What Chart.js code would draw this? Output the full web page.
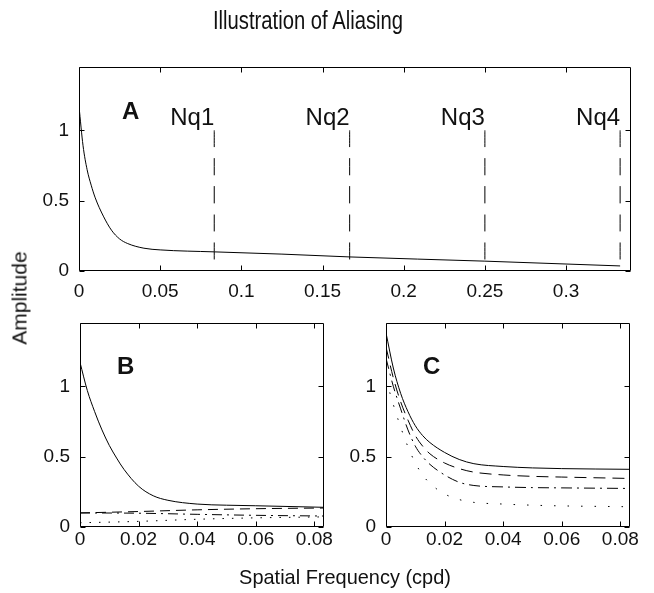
<!DOCTYPE html>
<html lang="en">
<head>
    <meta charset="UTF-8">
    <title>Illustration of Aliasing</title>
    <script src="https://cdn.jsdelivr.net/npm/chart.js"></script>
    <style>
        body { margin: 0; background: #fff; }
        #wrap { position: relative; width: 654px; height: 593px; overflow: hidden; }
        #wrap canvas { position: absolute; left: 0; top: 0; }
        .lbl {
            position: absolute;
            font-family: 'Liberation Sans', Arial, sans-serif;
            color: #111;
            white-space: nowrap;
        }
        /* the original uses a condensed helvetica for title and labels */
        #title { left: 0; width: 616px; top: 8px; text-align: center; font-size: 25px; line-height: 25px; transform: scaleX(0.81); }
        #xlabel { left: 145px; width: 400px; top: 566px; text-align: center; font-size: 21px; line-height: 21px; transform: scaleX(0.95); }
        #ylabel { left: 19px; top: 298px; font-size: 21px; line-height: 21px; transform: translate(-50%, -50%) rotate(-90deg); }
    </style>
</head>
<body>
<div id="wrap">
    <canvas id="chartA" width="654" height="593"></canvas>
    <canvas id="chartB" width="654" height="593"></canvas>
    <canvas id="chartC" width="654" height="593"></canvas>
    <div class="lbl" id="title">Illustration of Aliasing</div>
    <div class="lbl" id="xlabel">Spatial Frequency (cpd)</div>
    <div class="lbl" id="ylabel">Amplitude</div>
</div>

<script>
    // Panel A : spectrum over the whole range, with the Nyquist limits
    const freqA = [0, 0.0025, 0.005, 0.0075, 0.01, 0.015, 0.02, 0.025, 0.03, 0.04, 0.05, 0.0833, 0.125, 0.1667, 0.25, 0.3333];
    const ampA  = [1.17, 0.89, 0.72, 0.61, 0.52, 0.39, 0.29, 0.228, 0.195, 0.162, 0.15, 0.136, 0.12, 0.10, 0.07, 0.036];
    const nyquist = [0.0833, 0.1667, 0.25, 0.3333];
    const nyquistLabels = ['Nq1', 'Nq2', 'Nq3', 'Nq4'];

    // Panel B : first band, original spectrum + aliased copies
    const freqB      = [0, 0.0025, 0.005, 0.0075, 0.01, 0.0125, 0.015, 0.02, 0.025, 0.03, 0.04, 0.05, 0.06, 0.0833];
    const ampBsolid  = [1.17, 0.97, 0.82, 0.69, 0.58, 0.49, 0.41, 0.29, 0.222, 0.19, 0.163, 0.155, 0.151, 0.14];
    const freqBlow   = [0, 0.02, 0.04, 0.06, 0.0833];
    const ampBdash   = [0.10, 0.11, 0.122, 0.13, 0.135];
    const ampBdashdot = [0.10, 0.098, 0.09, 0.083, 0.078];
    const ampBdot    = [0.03, 0.04, 0.055, 0.065, 0.072];

    // Panel C : sums of the bands
    const freqC      = [0, 0.0025, 0.005, 0.0075, 0.01, 0.0125, 0.015, 0.02, 0.025, 0.03, 0.04, 0.05, 0.06, 0.0833];
    const ampCsolid  = [1.38, 1.13, 0.95, 0.82, 0.72, 0.65, 0.60, 0.53, 0.48, 0.45, 0.43, 0.42, 0.415, 0.41];
    const ampCdash   = [1.28, 1.06, 0.89, 0.76, 0.65, 0.575, 0.52, 0.455, 0.415, 0.39, 0.37, 0.36, 0.355, 0.345];
    const ampCdashdot = [1.20, 1.00, 0.84, 0.69, 0.575, 0.50, 0.445, 0.37, 0.318, 0.295, 0.285, 0.28, 0.278, 0.274];
    const ampCdot    = [1.05, 0.87, 0.71, 0.57, 0.455, 0.37, 0.31, 0.235, 0.195, 0.175, 0.163, 0.155, 0.15, 0.144];

    const yTicks = [0, 0.5, 1];

    Chart.defaults.font.family = "'Liberation Sans', Arial, sans-serif";
    Chart.defaults.color = '#111';

    function pts(xs, ys) {
        return xs.map((x, i) => ({ x: x, y: ys[i] }));
    }

    function line(xs, ys, dash) {
        return {
            data: pts(xs, ys),
            showLine: true,
            borderColor: '#000',
            borderWidth: 1,
            borderDash: dash,
            pointRadius: 0,
            cubicInterpolationMode: 'monotone'
        };
    }

    function fmt(v) {
        return String(+v.toFixed(4));
    }

    // frame box + matlab style inward ticks + text inside the axes
    const matlabAxes = {
        id: 'matlabAxes',
        afterDatasetsDraw(chart, args, opts) {
            const ctx = chart.ctx;
            const a = chart.chartArea;
            const xs = chart.scales.x, ys = chart.scales.y;
            const L = Math.round(a.left) + 0.5, R = Math.round(a.right) - 0.5;
            const T = Math.round(a.top) + 0.5, B = Math.round(a.bottom) - 0.5;
            ctx.save();
            ctx.strokeStyle = '#000';
            ctx.lineWidth = 1;
            ctx.setLineDash([]);
            ctx.beginPath();
            ctx.rect(L, T, R - L, B - T);
            xs.ticks.forEach(t => {
                const px = Math.round(xs.getPixelForValue(t.value)) + 0.5;
                ctx.moveTo(px, B); ctx.lineTo(px, B - 5);
                ctx.moveTo(px, T); ctx.lineTo(px, T + 5);
            });
            ys.ticks.forEach(t => {
                const py = Math.round(ys.getPixelForValue(t.value)) + 0.5;
                ctx.moveTo(L, py); ctx.lineTo(L + 5, py);
                ctx.moveTo(R, py); ctx.lineTo(R - 5, py);
            });
            ctx.stroke();
            ctx.fillStyle = '#111';
            ctx.textBaseline = 'alphabetic';
            (opts.texts || []).forEach(t => {
                ctx.font = (t.bold ? 'bold ' : '') + t.size + "px 'Liberation Sans', Arial, sans-serif";
                ctx.textAlign = t.align || 'left';
                ctx.fillText(t.text, xs.getPixelForValue(t.x), ys.getPixelForValue(t.y));
            });
            ctx.restore();
        }
    };

    function makeScales(xMax, xStep, yWidth, xPad) {
        return {
            x: {
                type: 'linear', min: 0, max: xMax,
                grid: { display: false, drawTicks: false },
                border: { display: false },
                ticks: { stepSize: xStep, includeBounds: false, padding: xPad, maxRotation: 0, autoSkip: false, font: { size: 19 }, callback: fmt },
                afterFit: s => { s.height = 30; }
            },
            y: {
                type: 'linear', min: 0, max: 1.45,
                grid: { display: false, drawTicks: false },
                border: { display: false },
                afterBuildTicks: s => { s.ticks = yTicks.map(v => ({ value: v })); },
                ticks: { padding: 10, font: { size: 19 }, callback: fmt },
                afterFit: s => { s.width = yWidth; }
            }
        };
    }

    function baseOptions(padding, scales, texts) {
        return {
            responsive: false,
            animation: false,
            devicePixelRatio: 1,
            layout: { padding: padding },
            scales: scales,
            plugins: {
                legend: { display: false },
                tooltip: { enabled: false },
                matlabAxes: { texts: texts }
            }
        };
    }

    // Panel A
    const dsA = [line(freqA, ampA, [])];
    nyquist.forEach(n => dsA.push(line([n, n], [1, 0], [17, 11])));
    const textsA = nyquistLabels.map((s, i) => ({ text: s, x: nyquist[i], y: 1.04, align: 'right', size: 24 }));
    textsA.push({ text: 'A', x: 0.0265, y: 1.08, bold: true, size: 24 });
    new Chart(document.getElementById('chartA'), {
        type: 'scatter',
        data: { datasets: dsA },
        options: baseOptions({ left: 0, top: 67, right: 23, bottom: 292 }, makeScales(0.34, 0.05, 79, 9), textsA),
        plugins: [matlabAxes]
    });

    // Panel B
    new Chart(document.getElementById('chartB'), {
        type: 'scatter',
        data: { datasets: [
            line(freqB, ampBsolid, []),
            line(freqBlow, ampBdash, [10, 6]),
            line(freqBlow, ampBdashdot, [10, 5, 2, 5]),
            line(freqBlow, ampBdot, [1.5, 8])
        ] },
        options: baseOptions({ left: 0, top: 323, right: 330, bottom: 36 }, makeScales(0.0833, 0.02, 80, 1),
            [{ text: 'B', x: 0.0126, y: 1.09, bold: true, size: 24 }]),
        plugins: [matlabAxes]
    });

    // Panel C
    new Chart(document.getElementById('chartC'), {
        type: 'scatter',
        data: { datasets: [
            line(freqC, ampCsolid, []),
            line(freqC, ampCdash, [12, 7]),
            line(freqC, ampCdashdot, [11, 5, 2, 5]),
            line(freqC, ampCdot, [1.5, 12])
        ] },
        options: baseOptions({ left: 346, top: 323, right: 24, bottom: 36 }, makeScales(0.0833, 0.02, 40, 1),
            [{ text: 'C', x: 0.0126, y: 1.09, bold: true, size: 24 }]),
        plugins: [matlabAxes]
    });
</script>
</body>
</html>
